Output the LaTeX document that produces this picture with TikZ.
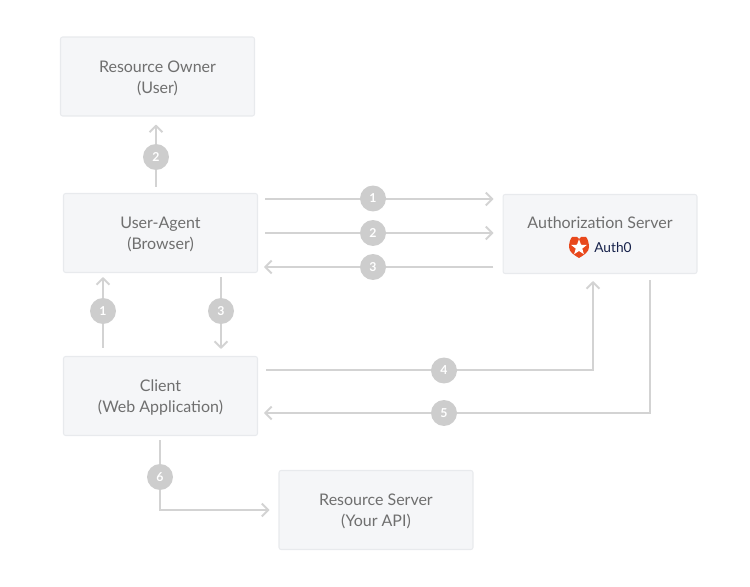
\documentclass[tikz,border=0pt]{standalone}
\usepackage{fontspec}
\setmainfont{Lato}
\usepackage{tikz}
\usetikzlibrary{arrows.meta,shapes.geometric}
\definecolor{BoxFill}{HTML}{F5F6F8}
\definecolor{BoxEdge}{HTML}{E8EAED}
\definecolor{FlowCol}{HTML}{D3D3D3}
\definecolor{BadgeCol}{HTML}{CDCDCD}
\definecolor{LabelCol}{HTML}{6F6F6F}
\definecolor{LogoRed}{HTML}{E8481C}
\definecolor{LogoInk}{HTML}{16214A}
\tikzset{
  partybox/.style={draw=BoxEdge,line width=0.6pt,fill=BoxFill,rounded corners=1.2pt,
    minimum width=3.88cm,minimum height=1.58cm,align=center,text=LabelCol,text height=20.3pt,
    font=\fontsize{9.1pt}{11.9pt}\selectfont},
  flowline/.style={draw=FlowCol,line width=1.1pt,-{Straight Barb[length=3.6pt,width=7.4pt]}},
  badge/.style={circle,fill=BadgeCol,text=white,inner sep=0pt,minimum size=0.52cm,
    font=\fontsize{7pt}{7pt}\selectfont\bfseries}
}
\begin{document}
\begin{tikzpicture}[x=0.02cm,y=-0.02cm]
  \useasboundingbox (0,0) rectangle (750,587);
  \node[partybox] (owner) at (157.5,76.5) {Resource Owner\\(User)};
  \node[partybox] (agent) at (160.5,233) {User-Agent\\(Browser)};
  \node[partybox] (authsrv) at (600,234) {};
  \node[partybox] (client) at (160.5,396) {Client\\(Web Application)};
  \node[partybox] (ressrv) at (376,510) {Resource Server\\(Your API)};
  \node[text=LabelCol,font=\fontsize{9.1pt}{11.9pt}\selectfont] (authname) at (600,223) {Authorization Server};
  % logo
  \fill[LogoRed] (572,237) -- (577,237) -- (579,239) -- (581,237) -- (586,237)
    .. controls (588,239) and (589,244) .. (589,247)
    .. controls (589,252) and (584,255) .. (579,258)
    .. controls (574,255) and (569,252) .. (569,247)
    .. controls (569,244) and (570,239) .. (572,237) -- cycle;
  \node[star,star points=5,star point ratio=2.4,fill=white,inner sep=0pt,minimum size=0.33cm] (authstar) at (579,247.5) {};
  \node[text=LogoInk,anchor=west,inner sep=0pt,font=\fontsize{7.8pt}{10pt}\selectfont] (authlogo) at (594,248) {Auth0};
  % user agent and owner
  \draw[flowline] ([shift={(-4.5,-6)}]agent.north) -- ([shift={(-1.5,8)}]owner.south);
  \node[badge] (b2a) at (156,157) {2};
  % user agent and authorization server
  \draw[flowline] ([shift={(7,-34)}]agent.east) -- ([shift={(-9,-35)}]authsrv.west);
  \node[badge] (b1b) at (373,198.5) {1};
  \draw[flowline] ([shift={(7,0)}]agent.east) -- ([shift={(-9,-1)}]authsrv.west);
  \node[badge] (b2b) at (373,233) {2};
  \draw[flowline] ([shift={(-9,33)}]authsrv.west) -- ([shift={(6,34)}]agent.east);
  \node[badge] (b3b) at (373,267) {3};
  % client and user agent
  \draw[flowline] ([shift={(-57.5,-8)}]client.north) -- ([shift={(-57.5,4)}]agent.south);
  \node[badge] (b1a) at (103,311) {1};
  \draw[flowline] ([shift={(60.5,4)}]agent.south) -- ([shift={(60.5,-7)}]client.north);
  \node[badge] (b3a) at (221,311) {3};
  % client and authorization server
  \draw[flowline] ([shift={(8,-26)}]client.east) -| ([shift={(-7,7)}]authsrv.south);
  \node[badge] (b4) at (444,370.5) {4};
  \draw[flowline] ([shift={(50,6)}]authsrv.south) |- ([shift={(6,17)}]client.east);
  \node[badge] (b5) at (444,413) {5};
  % client and resource server
  \draw[flowline] ([shift={(-0.5,4)}]client.south) |- ([shift={(-9,0)}]ressrv.west);
  \node[badge] (b6) at (160,477) {6};
\end{tikzpicture}
\end{document}
